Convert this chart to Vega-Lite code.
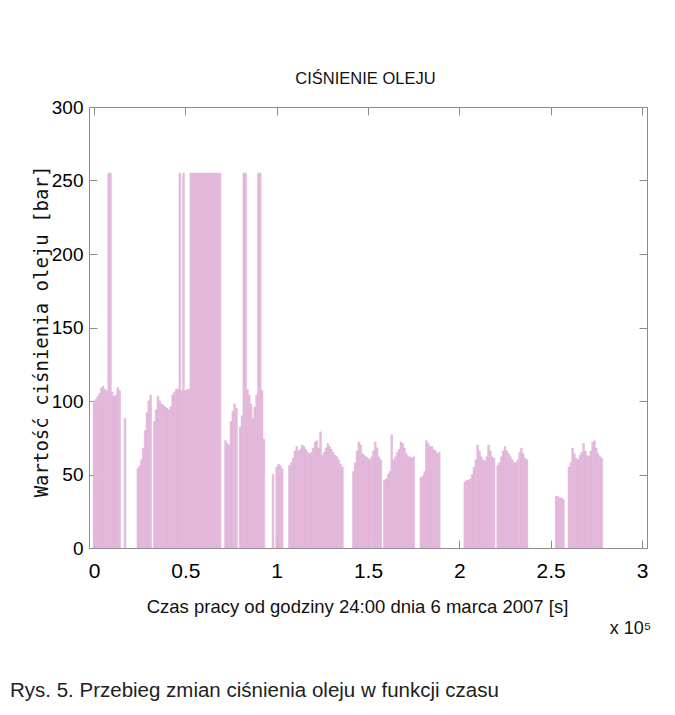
{
  "$schema": "https://vega.github.io/schema/vega-lite/v6.json",
  "width": 558,
  "height": 441,
  "autosize": "none",
  "padding": {"left": 89, "top": 107, "right": 28, "bottom": 167},
  "background": "white",
  "title": {"text": "Rys. 5. Przebieg zmian ciśnienia oleju w funkcji czasu", "orient": "bottom", "anchor": "start", "frame": "group", "dx": -79, "offset": 44, "font": "Liberation Sans", "fontSize": 20.5, "fontWeight": "normal", "color": "#222222"},
  "data": {"values": [
    {"t":0.00,"p":100},{"t":0.01,"p":101},{"t":0.02,"p":103},{"t":0.03,"p":105},{"t":0.04,"p":109},{"t":0.05,"p":110},{"t":0.06,"p":108},{"t":0.07,"p":107},{"t":0.08,"p":255},{"t":0.09,"p":255},{"t":0.10,"p":106},{"t":0.11,"p":103},{"t":0.12,"p":104},{"t":0.13,"p":109},{"t":0.14,"p":107},
    {"t":0.17,"p":88},
    {"t":0.24,"p":54},{"t":0.25,"p":56},{"t":0.26,"p":60},{"t":0.27,"p":68},{"t":0.28,"p":80},{"t":0.29,"p":92},{"t":0.30,"p":100},{"t":0.31,"p":104},
    {"t":0.33,"p":86},{"t":0.34,"p":94},{"t":0.35,"p":103},{"t":0.36,"p":100},{"t":0.37,"p":98},{"t":0.38,"p":97},{"t":0.39,"p":96},{"t":0.40,"p":95},{"t":0.41,"p":94},{"t":0.42,"p":96},{"t":0.43,"p":104},{"t":0.44,"p":106},{"t":0.45,"p":108},{"t":0.46,"p":108},{"t":0.47,"p":255},{"t":0.48,"p":107},{"t":0.49,"p":255},{"t":0.50,"p":107},{"t":0.51,"p":108},{"t":0.52,"p":108},
    {"t":0.53,"p":255},{"t":0.54,"p":255},{"t":0.55,"p":255},{"t":0.56,"p":255},{"t":0.57,"p":255},{"t":0.58,"p":255},{"t":0.59,"p":255},{"t":0.60,"p":255},{"t":0.61,"p":255},{"t":0.62,"p":255},{"t":0.63,"p":255},{"t":0.64,"p":255},{"t":0.65,"p":255},{"t":0.66,"p":255},{"t":0.67,"p":255},{"t":0.68,"p":255},{"t":0.69,"p":255},
    {"t":0.72,"p":73},{"t":0.73,"p":71},{"t":0.74,"p":70},{"t":0.75,"p":86},{"t":0.76,"p":93},{"t":0.77,"p":98},{"t":0.78,"p":95},
    {"t":0.80,"p":82},{"t":0.81,"p":90},{"t":0.82,"p":255},{"t":0.83,"p":255},{"t":0.84,"p":108},{"t":0.85,"p":104},{"t":0.86,"p":98},{"t":0.87,"p":88},{"t":0.88,"p":96},{"t":0.89,"p":104},{"t":0.90,"p":255},{"t":0.91,"p":255},{"t":0.92,"p":107},{"t":0.93,"p":74},
    {"t":0.98,"p":50},{"t":1.00,"p":55},{"t":1.01,"p":57},{"t":1.02,"p":56},{"t":1.03,"p":54},
    {"t":1.07,"p":56},{"t":1.08,"p":58},{"t":1.09,"p":61},{"t":1.10,"p":66},{"t":1.11,"p":69},{"t":1.12,"p":66},{"t":1.13,"p":67},{"t":1.14,"p":70},{"t":1.15,"p":69},{"t":1.16,"p":67},{"t":1.17,"p":65},{"t":1.18,"p":64},{"t":1.19,"p":65},{"t":1.20,"p":68},{"t":1.21,"p":72},{"t":1.22,"p":73},{"t":1.23,"p":68},{"t":1.24,"p":79},{"t":1.25,"p":63},{"t":1.26,"p":65},{"t":1.27,"p":68},{"t":1.28,"p":71},{"t":1.29,"p":69},{"t":1.30,"p":67},{"t":1.31,"p":65},{"t":1.32,"p":63},{"t":1.33,"p":62},{"t":1.34,"p":60},{"t":1.35,"p":57},{"t":1.36,"p":55},
    {"t":1.42,"p":52},{"t":1.43,"p":58},{"t":1.44,"p":66},{"t":1.45,"p":72},{"t":1.46,"p":70},{"t":1.47,"p":64},{"t":1.48,"p":63},{"t":1.49,"p":62},{"t":1.50,"p":61},{"t":1.51,"p":60},{"t":1.52,"p":62},{"t":1.53,"p":66},{"t":1.54,"p":72},{"t":1.55,"p":68},{"t":1.56,"p":62},{"t":1.57,"p":60},
    {"t":1.59,"p":46},{"t":1.60,"p":47},{"t":1.61,"p":50},{"t":1.62,"p":52},{"t":1.63,"p":77},{"t":1.64,"p":60},{"t":1.65,"p":62},{"t":1.66,"p":65},{"t":1.67,"p":67},{"t":1.68,"p":72},{"t":1.69,"p":71},{"t":1.70,"p":68},{"t":1.71,"p":64},{"t":1.72,"p":62},{"t":1.73,"p":62},{"t":1.74,"p":61},{"t":1.75,"p":62},
    {"t":1.79,"p":48},{"t":1.80,"p":49},{"t":1.81,"p":52},{"t":1.82,"p":73},{"t":1.83,"p":71},{"t":1.84,"p":69},{"t":1.85,"p":69},{"t":1.86,"p":67},{"t":1.87,"p":66},{"t":1.88,"p":64},{"t":1.89,"p":65},
    {"t":2.03,"p":45},{"t":2.04,"p":46},{"t":2.05,"p":46},{"t":2.06,"p":47},{"t":2.07,"p":50},{"t":2.08,"p":55},{"t":2.09,"p":60},{"t":2.10,"p":70},{"t":2.11,"p":66},{"t":2.12,"p":62},{"t":2.13,"p":60},{"t":2.14,"p":59},{"t":2.15,"p":62},{"t":2.16,"p":70},{"t":2.17,"p":66},{"t":2.18,"p":62},{"t":2.19,"p":61},
    {"t":2.21,"p":56},{"t":2.22,"p":58},{"t":2.23,"p":62},{"t":2.24,"p":66},{"t":2.25,"p":69},{"t":2.26,"p":66},{"t":2.27,"p":64},{"t":2.28,"p":62},{"t":2.29,"p":60},{"t":2.30,"p":58},{"t":2.31,"p":58},{"t":2.32,"p":60},{"t":2.33,"p":65},{"t":2.34,"p":68},{"t":2.35,"p":64},{"t":2.36,"p":61},{"t":2.37,"p":60},
    {"t":2.53,"p":35},{"t":2.54,"p":35},{"t":2.55,"p":34},{"t":2.56,"p":34},{"t":2.57,"p":33},
    {"t":2.60,"p":55},{"t":2.61,"p":58},{"t":2.62,"p":68},{"t":2.63,"p":64},{"t":2.64,"p":61},{"t":2.65,"p":60},{"t":2.66,"p":63},{"t":2.67,"p":65},{"t":2.68,"p":71},{"t":2.69,"p":66},{"t":2.70,"p":63},{"t":2.71,"p":62},{"t":2.72,"p":66},{"t":2.73,"p":72},{"t":2.74,"p":73},{"t":2.75,"p":68},{"t":2.76,"p":64},{"t":2.77,"p":62},{"t":2.78,"p":61}
  ]},
  "layer": [
    {
      "mark": {"type": "bar", "width": 1.8, "color": "#e8bfe0", "stroke": "#d59fca", "strokeWidth": 0.4},
      "encoding": {
        "x": {"field": "t", "type": "quantitative", "scale": {"domain": [0, 3], "nice": false, "zero": false},
          "axis": {"orient": "bottom", "values": [0, 0.5, 1, 1.5, 2, 2.5, 3], "format": "~g", "grid": false, "tickSize": -8, "labelPadding": 20, "labelFont": "Liberation Sans", "labelFontSize": 21, "labelColor": "#000000", "labelFlush": false, "labelOverlap": false, "domainColor": "#8c8c8c", "tickColor": "#8c8c8c",
            "title": "Czas pracy od godziny 24:00 dnia 6 marca 2007 [s]", "titleFont": "Liberation Sans", "titleFontSize": 18.5, "titleFontWeight": "normal", "titleColor": "#111111", "titleX": 268, "titleY": 64, "titleAlign": "center", "titleBaseline": "alphabetic"}},
        "y": {"field": "p", "type": "quantitative", "scale": {"domain": [0, 300], "nice": false},
          "axis": {"orient": "left", "values": [0, 50, 100, 150, 200, 250, 300], "grid": false, "tickSize": -8, "labelPadding": 14, "labelFont": "Liberation Sans", "labelFontSize": 19, "labelColor": "#000000", "labelFlush": false, "labelOverlap": false, "domainColor": "#8c8c8c", "tickColor": "#8c8c8c",
            "title": "Wartość ciśnienia oleju [bar]", "titleFont": "DejaVu Sans Mono", "titleFontSize": 19, "titleFontWeight": "normal", "titleColor": "#111111", "titleAngle": -90, "titleX": -42, "titleY": 224, "titleAlign": "center", "titleBaseline": "alphabetic"}}
      }
    },
    {
      "mark": {"type": "bar", "width": 1.8, "opacity": 0},
      "encoding": {
        "x": {"field": "t", "type": "quantitative", "scale": {"domain": [0, 3], "nice": false, "zero": false},
          "axis": {"orient": "top", "values": [0, 0.5, 1, 1.5, 2, 2.5, 3], "grid": false, "labels": false, "tickSize": -8, "domainColor": "#8c8c8c", "tickColor": "#8c8c8c",
            "title": "CIŚNIENIE OLEJU", "titleFont": "Liberation Sans", "titleFontSize": 16.5, "titleFontWeight": "normal", "titleColor": "#111111", "titleX": 276, "titleY": -24, "titleAlign": "center", "titleBaseline": "alphabetic"}},
        "y": {"field": "p", "type": "quantitative", "scale": {"domain": [0, 300], "nice": false},
          "axis": {"orient": "right", "values": [0, 50, 100, 150, 200, 250, 300], "grid": false, "labels": false, "tickSize": -8, "domainColor": "#8c8c8c", "tickColor": "#8c8c8c",
            "title": "x 10⁵", "titleFont": "Liberation Sans", "titleFontSize": 18, "titleFontWeight": "normal", "titleColor": "#111111", "titleAngle": 0, "titleX": -17, "titleY": 526, "titleAlign": "center", "titleBaseline": "alphabetic"}}
      }
    }
  ],
  "resolve": {"axis": {"x": "independent", "y": "independent"}},
  "config": {"view": {"stroke": null}}
}
